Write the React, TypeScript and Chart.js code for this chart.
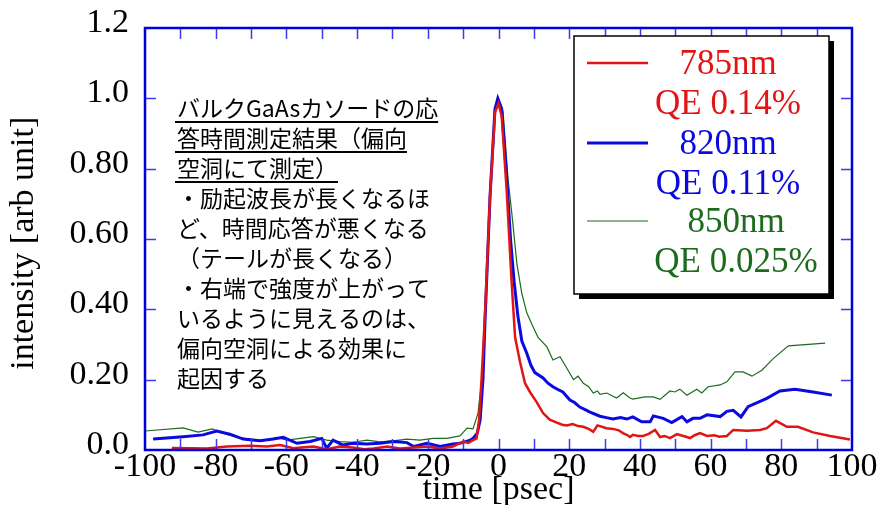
import React, { useEffect, useRef } from 'react';
import { Chart, registerables } from 'chart.js';

Chart.register(...registerables);

// ---- data ----
const redTime = [-92.4, -87, -82.5, -76.8, -70.3, -65.5, -61.8, -58, -55, -52.4, -48.6, -44.9, -41.2, -38, -35.4, -31.5, -27.9, -24, -20.2, -16.5, -12.9, -10, -8.5, -7.6, -6.2, -5.5, -4.8, -3.8, -2.4, -1, 0, 0.9, 2.3, 3.7, 4.7, 6.1, 7.5, 8.9, 10.8, 12.6, 14.5, 16.5, 18, 19.3, 21, 22.5, 24, 25.5, 26.8, 28, 28.7, 30.5, 32.4, 34, 35.2, 36.5, 37.2, 38, 39.5, 40.9, 42.5, 44.3, 45.7, 47, 48.5, 50.5, 52.3, 54.2, 55.5, 57, 59, 61, 62.5, 64.6, 66.4, 70.3, 74, 75.9, 78.5, 81.6, 84.7, 89, 93.8, 99.4];
const redValue = [0.006, 0.005, 0.004, 0.010, 0.012, 0.010, 0.014, 0.005, 0.008, 0.010, 0.002, 0.010, 0.007, 0.002, 0.004, 0.010, 0.004, 0.007, 0.010, 0.004, 0.010, 0.024, 0.020, 0.026, 0.033, 0.085, 0.20, 0.39, 0.72, 0.96, 0.985, 0.95, 0.74, 0.48, 0.32, 0.25, 0.19, 0.165, 0.136, 0.105, 0.086, 0.078, 0.072, 0.070, 0.074, 0.068, 0.066, 0.060, 0.052, 0.070, 0.068, 0.062, 0.060, 0.056, 0.048, 0.042, 0.037, 0.043, 0.040, 0.040, 0.046, 0.057, 0.037, 0.040, 0.034, 0.045, 0.040, 0.034, 0.042, 0.048, 0.040, 0.042, 0.038, 0.040, 0.057, 0.055, 0.057, 0.062, 0.083, 0.066, 0.066, 0.050, 0.040, 0.030];

const blueTime = [-97.7, -89.2, -83.6, -79.7, -76, -72.2, -67.5, -63.7, -60.9, -57, -53.3, -50, -48.6, -46.8, -44, -41.2, -37.2, -33.5, -29.8, -25.9, -24, -20.2, -16.5, -12.9, -10.9, -8, -7.2, -6, -5.2, -4.4, -3.8, -2.4, -1, -0.2, 0.9, 2.3, 3.4, 4.4, 5.5, 6.6, 8, 9.2, 10.3, 12.6, 14, 15.4, 16.8, 18.2, 20.2, 21.5, 23, 24.5, 25.9, 28.7, 30.5, 32.4, 34.5, 36.3, 38, 40.5, 42.9, 43.8, 46.6, 49, 51.9, 53.3, 55, 57, 59, 62.7, 64.6, 66.4, 68.6, 70.6, 75.9, 79.6, 83.9, 89, 94.3];
const blueValue = [0.031, 0.038, 0.043, 0.054, 0.045, 0.031, 0.026, 0.031, 0.036, 0.019, 0.024, 0.033, 0.005, 0.028, 0.014, 0.019, 0.017, 0.019, 0.024, 0.021, 0.010, 0.019, 0.010, 0.017, 0.019, 0.028, 0.033, 0.048, 0.085, 0.20, 0.37, 0.72, 0.97, 1.0, 0.97, 0.78, 0.60, 0.48, 0.38, 0.31, 0.275, 0.24, 0.22, 0.205, 0.19, 0.18, 0.172, 0.165, 0.142, 0.135, 0.122, 0.115, 0.108, 0.096, 0.092, 0.088, 0.092, 0.088, 0.094, 0.080, 0.080, 0.097, 0.090, 0.078, 0.095, 0.080, 0.090, 0.090, 0.100, 0.095, 0.110, 0.113, 0.094, 0.123, 0.147, 0.168, 0.173, 0.165, 0.156];

const greenTime = [-100, -89.2, -85, -81, -77.9, -74, -70.3, -66.6, -62.7, -59.9, -56.1, -52.4, -48.6, -44.9, -41.2, -37.2, -33.5, -29.8, -25.9, -22.2, -18.5, -14.6, -10.9, -8.9, -7.2, -5.8, -4.7, -3.8, -2.4, -1, 0, 1.3, 2.7, 3.8, 5.2, 6.6, 8, 9.8, 11.2, 13.7, 15.4, 17.4, 19.3, 21.2, 22.5, 24, 25.5, 26.8, 28, 28.7, 30.6, 33.4, 35.3, 37.2, 38, 41.4, 43.8, 45.7, 48.5, 49.9, 51.3, 53.3, 56.1, 57.5, 59.3, 62.7, 64.6, 66.9, 69.2, 71.7, 74.5, 77.7, 82, 92.4];
const greenValue = [0.054, 0.063, 0.051, 0.060, 0.048, 0.036, 0.031, 0.026, 0.036, 0.028, 0.033, 0.038, 0.028, 0.024, 0.022, 0.028, 0.023, 0.026, 0.031, 0.028, 0.033, 0.033, 0.040, 0.062, 0.060, 0.105, 0.20, 0.37, 0.72, 0.97, 1.0, 0.96, 0.77, 0.67, 0.53, 0.445, 0.39, 0.35, 0.32, 0.293, 0.256, 0.265, 0.233, 0.20, 0.21, 0.19, 0.18, 0.162, 0.168, 0.158, 0.162, 0.148, 0.163, 0.148, 0.145, 0.151, 0.151, 0.144, 0.168, 0.165, 0.173, 0.156, 0.173, 0.162, 0.180, 0.185, 0.194, 0.222, 0.222, 0.210, 0.227, 0.260, 0.296, 0.304];

const seriesNames = ['785nm', '820nm', '850nm'];
const qeLabels = ['QE 0.14%', 'QE 0.11%', 'QE 0.025%'];
const yTickLabels = ['0.0', '0.20', '0.40', '0.60', '0.80', '1.0', '1.2'];
const xMinorTicks = [-90, -80, -70, -60, -50, -40, -30, -20, -10, 0, 10, 20, 30, 40, 50, 60, 70, 80, 90];
const yMinorTicks = [0.2, 0.4, 0.6, 0.8, 1.0];
const noteLines = [
  'バルクGaAsカソードの応',
  '答時間測定結果（偏向',
  '空洞にて測定）',
  '・励起波長が長くなるほ',
  'ど、時間応答が悪くなる',
  '（テールが長くなる）',
  '・右端で強度が上がって',
  'いるように見えるのは、',
  '偏向空洞による効果に',
  '起因する',
];
const underlinedLines = 3;

const RED = '#e31414';
const BLUE = '#0a0ae0';
const GREEN = '#1d6b1d';
const FRAME = '#0000dd';
const SERIF = "'Liberation Serif', 'Times New Roman', serif";

const overlayPlugin = {
  id: 'overlay',
  afterDatasetsDraw(chart: any) {
    const ctx = chart.ctx;
    const { left, right, top, bottom } = chart.chartArea;
    const xs = chart.scales.x;
    const ys = chart.scales.y;
    ctx.save();
    ctx.strokeStyle = '#3c3cee';
    ctx.lineWidth = 1.5;
    ctx.beginPath();
    xMinorTicks.forEach((v) => {
      const px = Math.round(xs.getPixelForValue(v)) + 0.5;
      ctx.moveTo(px, bottom);
      ctx.lineTo(px, bottom - 11);
      ctx.moveTo(px, top);
      ctx.lineTo(px, top + 11);
    });
    yMinorTicks.forEach((v) => {
      const py = Math.round(ys.getPixelForValue(v)) + 0.5;
      ctx.moveTo(left, py);
      ctx.lineTo(left + 11, py);
      ctx.moveTo(right, py);
      ctx.lineTo(right - 11, py);
    });
    ctx.stroke();
    ctx.strokeStyle = FRAME;
    ctx.lineWidth = 2.5;
    ctx.strokeRect(left, top, right - left, bottom - top);
    ctx.restore();
  },
  afterDraw(chart: any) {
    const ctx = chart.ctx;
    ctx.save();
    const bx = 574, by = 36, bw = 255, bh = 258;
    ctx.fillStyle = '#000';
    ctx.fillRect(bx + 5, by + 5, bw, bh);
    ctx.fillStyle = '#fff';
    ctx.fillRect(bx, by, bw, bh);
    ctx.strokeStyle = '#000';
    ctx.lineWidth = 1.5;
    ctx.strokeRect(bx, by, bw, bh);
    const ds = chart.data.datasets;
    const lineYs = [63, 143, 221];
    const textCx = [728, 728, 736];
    ctx.font = `35px ${SERIF}`;
    ctx.textAlign = 'center';
    ctx.textBaseline = 'middle';
    ds.forEach((d: any, i: number) => {
      ctx.strokeStyle = d.borderColor;
      ctx.lineWidth = d.borderWidth;
      ctx.beginPath();
      ctx.moveTo(587, lineYs[i]);
      ctx.lineTo(648, lineYs[i]);
      ctx.stroke();
      ctx.fillStyle = d.borderColor;
      ctx.fillText(seriesNames[i], textCx[i], lineYs[i] + 2);
      ctx.fillText(qeLabels[i], textCx[i], lineYs[i] + 42);
    });
    ctx.font = "23px 'Noto Sans CJK JP', sans-serif";
    ctx.textAlign = 'left';
    ctx.textBaseline = 'middle';
    ctx.fillStyle = '#000';
    ctx.strokeStyle = '#000';
    ctx.lineWidth = 2;
    noteLines.forEach((line, i) => {
      const y = 108 + i * 30;
      ctx.fillText(line, 177, y);
      if (i < underlinedLines) {
        const w = ctx.measureText(line).width;
        ctx.beginPath();
        ctx.moveTo(175, y + 14);
        ctx.lineTo(177 + w, y + 14);
        ctx.stroke();
      }
    });
    ctx.restore();
  },
};

export default function App() {
  const canvasRef = useRef<HTMLCanvasElement | null>(null);

  useEffect(() => {
    document.body.style.margin = '0';
    const canvas = canvasRef.current;
    if (!canvas) return;
    const mk = (t: number[], v: number[]) => t.map((x, i) => ({ x, y: v[i] }));
    const chart = new Chart(canvas, {
      type: 'line',
      data: {
        datasets: [
          { label: seriesNames[0], data: mk(redTime, redValue), borderColor: RED, borderWidth: 2.5, pointRadius: 0, tension: 0, fill: false },
          { label: seriesNames[1], data: mk(blueTime, blueValue), borderColor: BLUE, borderWidth: 3, pointRadius: 0, tension: 0, fill: false },
          { label: seriesNames[2], data: mk(greenTime, greenValue), borderColor: GREEN, borderWidth: 1.2, pointRadius: 0, tension: 0, fill: false },
        ],
      },
      options: {
        animation: false,
        responsive: false,
        devicePixelRatio: 1,
        layout: { padding: { left: 0, right: 31, top: 28, bottom: 0 } },
        plugins: { legend: { display: false }, tooltip: { enabled: false } },
        scales: {
          x: {
            type: 'linear',
            min: -100,
            max: 100,
            grid: { display: false, drawTicks: false },
            border: { display: false },
            ticks: {
              stepSize: 20,
              padding: -3,
              color: '#000',
              font: { family: SERIF, size: 34 },
              maxRotation: 0,
              autoSkip: false,
              callback: (v: any) => String(v),
            },
            title: {
              display: true,
              text: 'time [psec]',
              color: '#000',
              font: { family: SERIF, size: 34 },
              padding: { top: 0, bottom: -5 },
            },
            afterFit: (s: any) => { s.height = 55; },
          },
          y: {
            type: 'linear',
            min: 0,
            max: 1.2,
            grid: { display: false, drawTicks: false },
            border: { display: false },
            ticks: {
              stepSize: 0.2,
              padding: 16,
              labelOffset: -5,
              color: '#000',
              font: { family: SERIF, size: 34, lineHeight: 0.5 },
              autoSkip: false,
              callback: (_v: any, i: number) => yTickLabels[i],
            },
            title: {
              display: true,
              text: 'intensity [arb unit] ',
              color: '#000',
              font: { family: SERIF, size: 34 },
              padding: { top: 4, bottom: 0 },
            },
            afterFit: (s: any) => { s.width = 145; },
          },
        },
      },
      plugins: [overlayPlugin],
    } as any);
    return () => chart.destroy();
  }, []);

  return (
    <div style={{ position: 'absolute', left: 0, top: 0, width: 883, height: 505, background: '#fff' }}>
      <canvas ref={canvasRef} width={883} height={505} />
    </div>
  );
}
